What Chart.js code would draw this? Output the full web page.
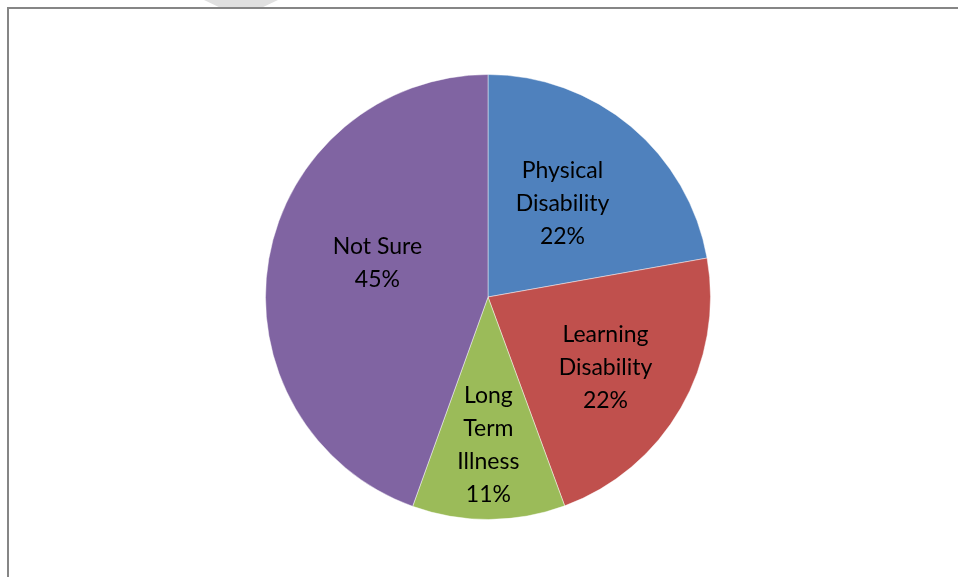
<!DOCTYPE html>
<html>
<head>
<meta charset="utf-8">
<script src="https://cdn.jsdelivr.net/npm/chart.js@4"></script>
<style>
  html, body { margin: 0; padding: 0; background: #fff; }
  #wrap { position: relative; width: 958px; height: 577px; overflow: hidden; }
  #frameTop { position: absolute; left: 7px; top: 7px; width: 951px; height: 2px; background: #868686; }
  #frameLeft { position: absolute; left: 7px; top: 7px; width: 2px; height: 570px; background: #868686; }
  #shade { position: absolute; left: 204px; top: 0; width: 74px; height: 7px; background: #e0e0e0;
           clip-path: polygon(0 0, 100% 0, 80% 100%, 20% 100%); }
  canvas { position: absolute; left: 0; top: 0; }
</style>
</head>
<body>
<div id="wrap">
  <div id="shade"></div>
  <div id="frameTop"></div>
  <div id="frameLeft"></div>
  <canvas id="c" width="958" height="577"></canvas>
</div>
<script>
const categories = ["Physical Disability", "Learning Disability", "Long Term Illness", "Not Sure"];
const labelLines = [["Physical", "Disability"], ["Learning", "Disability"], ["Long", "Term", "Illness"], ["Not Sure"]];
const values = [22.2, 22.2, 11.1, 44.5];
const colors = ["#4F81BD", "#C0504D", "#9BBB59", "#8064A2"];
// pixel nudges of the label from the slice centroid (style only)
const labelNudge = [[3, -8], [21, 15], [0, 37], [-1, -15]];

const labelPlugin = {
  id: 'sliceLabels',
  afterDatasetsDraw(chart) {
    const ctx = chart.ctx;
    const meta = chart.getDatasetMeta(0);
    const total = values.reduce((a, b) => a + b, 0);
    ctx.save();
    ctx.font = '23px Lato, "Open Sans", sans-serif';
    ctx.fillStyle = '#000';
    ctx.textAlign = 'center';
    ctx.textBaseline = 'middle';
    const lh = 33;
    meta.data.forEach((arc, i) => {
      const p = arc.tooltipPosition();
      const lines = labelLines[i].concat([Math.round(values[i] / total * 100) + '%']);
      const cx = p.x + labelNudge[i][0];
      const cy = p.y + labelNudge[i][1];
      const y0 = cy - (lines.length - 1) * lh / 2;
      lines.forEach((t, k) => ctx.fillText(t, cx, y0 + k * lh));
    });
    ctx.restore();
  }
};

new Chart(document.getElementById('c'), {
  type: 'pie',
  data: {
    labels: categories,
    datasets: [{
      data: values,
      backgroundColor: colors,
      borderColor: 'rgba(255,255,255,0.45)',
      borderWidth: 1
    }]
  },
  options: {
    responsive: false,
    animation: false,
    layout: { padding: { left: 265, right: 247, top: 74, bottom: 57 } },
    plugins: {
      legend: { display: false },
      tooltip: { enabled: false }
    }
  },
  plugins: [labelPlugin]
});
</script>
</body>
</html>
